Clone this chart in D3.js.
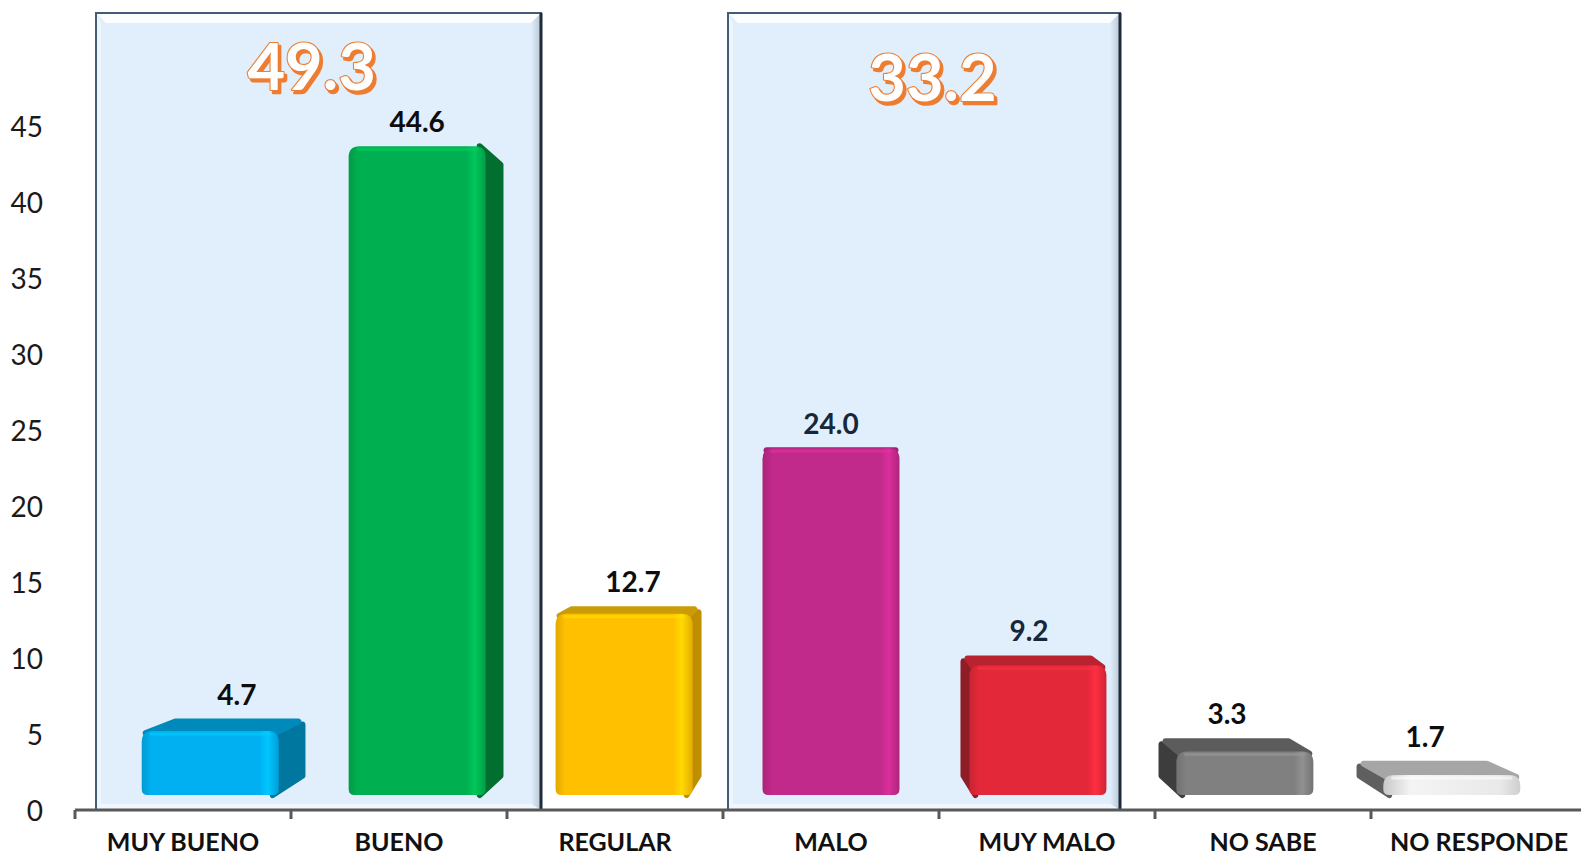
<!DOCTYPE html>
<html>
<head>
<meta charset="utf-8">
<script src="https://cdn.jsdelivr.net/npm/d3@7"></script>
<style>
  html, body { margin: 0; padding: 0; background: #ffffff; }
  svg { display: block; }
</style>
</head>
<body>
<svg id="chart" width="1581" height="859"></svg>
<script>
// ---------- DATA ----------
const categories = ["MUY BUENO", "BUENO", "REGULAR", "MALO", "MUY MALO", "NO SABE", "NO RESPONDE"];
const values = [4.7, 44.6, 12.7, 24.0, 9.2, 3.3, 1.7];
const yTicks = [0, 5, 10, 15, 20, 25, 30, 35, 40, 45];
const groupMembers = [["MUY BUENO", "BUENO"], ["MALO", "MUY MALO"]];
const groupTotals = ["49.3", "33.2"];

// ---------- STYLE ----------
const barColors = {
  "MUY BUENO":   {front: "#00b0f0", side: "#00779f", top: "#0089bb"},
  "BUENO":       {front: "#00b050", side: "#006f30", top: "#008a3c"},
  "REGULAR":     {front: "#ffc000", side: "#c08f00", top: "#c99c08"},
  "MALO":        {front: "#c1298a", side: "#861b5f", top: "#a42274"},
  "MUY MALO":    {front: "#e32939", side: "#8f1d26", top: "#b8232f"},
  "NO SABE":     {front: "#808080", side: "#3d3d3d", top: "#5c5c5c"},
  "NO RESPONDE": {front: "#e6e6e6", side: "#5f5f5f", top: "#a6a6a6"}
};

const svg = d3.select("#chart");
const W = 1581, H = 859;

// ---------- SCALES ----------
const x = d3.scaleBand().domain(categories).range([75, 75 + 7 * 216]).padding(0);
const bw = x.bandwidth();
const y = d3.scaleLinear().domain([0, 50]).range([810, 50]);       // axis scale
const barY = d3.scaleLinear().domain([0, 50]).range([800, 67]);    // 3D bar plane scale

// perspective
const VP = {x: x("MALO") + bw / 2, y: 440};
const backS = 0.957, frontK = 0.958, frontW = 137, frontBottom = 795;
const proj = (px, py) => [VP.x + (px - VP.x) * backS, VP.y + (py - VP.y) * backS];

const defs = svg.append("defs");

// ---------- GROUP BOXES ----------
const boxInset = [[21, 34], [5, -35]];
const boxTop = 13;
groupMembers.forEach((mem, i) => {
  const l = x(mem[0]) + boxInset[i][0];
  const r = x(mem[mem.length - 1]) + bw + boxInset[i][1];
  const t = boxTop, b = y(0);
  const g = svg.append("g").attr("class", "group-box");
  const gid = "boxRight" + i;
  const lg = defs.append("linearGradient").attr("id", gid).attr("x1", 0).attr("x2", 1).attr("y1", 0).attr("y2", 0);
  lg.append("stop").attr("offset", 0).attr("stop-color", "#e1effc");
  lg.append("stop").attr("offset", 1).attr("stop-color", "#b9c7d5");
  g.append("rect").attr("x", l).attr("y", t).attr("width", r - l).attr("height", b - t).attr("fill", "#e1effc");
  const bv = 10;
  g.append("polygon").attr("points", [[l, t], [r, t], [r - bv, t + bv], [l + bv, t + bv]].join(" ")).attr("fill", "#ffffff").attr("opacity", 0.9);
  g.append("polygon").attr("points", [[r, t], [r, b], [r - bv, b - bv * 0.6], [r - bv, t + bv]].join(" ")).attr("fill", "url(#" + gid + ")");
  g.append("polygon").attr("points", [[l, t], [l + 5, t + bv], [l + 5, b - 6], [l, b]].join(" ")).attr("fill", "#eef6fe");
  g.append("polygon").attr("points", [[l, b], [l + 5, b - 6], [r - bv, b - 6], [r, b]].join(" ")).attr("fill", "#f1f7fd");
  g.append("rect").attr("x", l).attr("y", t).attr("width", r - l).attr("height", b - t)
    .attr("fill", "none").attr("stroke", "#435c78").attr("stroke-width", 2);
  g.append("line").attr("x1", r).attr("x2", r).attr("y1", t).attr("y2", b).attr("stroke", "#1f2b38").attr("stroke-width", 3);
});

// ---------- AXES ----------
const yAxis = d3.axisLeft(y).tickValues(yTicks).tickSize(0).tickPadding(0);
const gy = svg.append("g").attr("transform", "translate(43,0)").call(yAxis);
gy.select(".domain").remove();
gy.selectAll("text").attr("font-family", "Lato, 'Open Sans', sans-serif").attr("font-size", 28)
  .attr("fill", "#1a1a1a").attr("dy", "0.36em");

const xAxis = d3.axisBottom(x).tickSize(0).tickPadding(0);
const gx = svg.append("g").attr("transform", `translate(0,${y(0)})`).call(xAxis);
gx.select(".domain").remove();
gx.selectAll(".tick line").remove();
gx.selectAll("text").attr("font-family", "Lato, 'Open Sans', sans-serif").attr("font-size", 25)
  .attr("font-weight", "bold").attr("fill", "#111").attr("dy", 0).attr("y", 41);
svg.append("line").attr("x1", x.range()[0]).attr("x2", W).attr("y1", y(0)).attr("y2", y(0))
  .attr("stroke", "#595959").attr("stroke-width", 3);
svg.selectAll(".bound").data(categories).join("line").attr("class", "bound")
  .attr("x1", d => x(d)).attr("x2", d => x(d)).attr("y1", y(0)).attr("y2", y(0) + 9)
  .attr("stroke", "#595959").attr("stroke-width", 3);

// ---------- BARS ----------
const data = categories.map((c, i) => ({cat: c, value: values[i]}));
const barsG = svg.append("g").attr("class", "bars");

function frontPath(l, r, t, b, rt, rb) {
  return `M${l},${b - rb} L${l},${t + rt} Q${l},${t} ${l + rt},${t} L${r - rt},${t} Q${r},${t} ${r},${t + rt} L${r},${b - rb} Q${r},${b} ${r - rb},${b} L${l + rb},${b} Q${l},${b} ${l},${b - rb} Z`;
}

data.forEach((d, i) => {
  const col = barColors[d.cat];
  const fc = VP.x + (x(d.cat) + bw / 2 - VP.x) * frontK;
  const l = fc - frontW / 2, r = fc + frontW / 2;
  const t = barY(d.value), b = frontBottom;
  d.fc = fc; d.top = t;
  const g = barsG.append("g");
  const [blx, bty] = proj(l, t);
  const [brx] = proj(r, t);
  const [, bby] = proj(l, b);
  d.backCenter = (blx + brx) / 2;
  d.backTop = bty;

  if (r < VP.x) {
    g.append("polygon").attr("points", [[r - 6, t], [brx, bty + 6], [brx, bby - 4], [r - 6, b]].join(" "))
      .attr("fill", col.side).attr("stroke", col.side).attr("stroke-width", 6).attr("stroke-linejoin", "round");
  } else if (l > VP.x) {
    g.append("polygon").attr("points", [[l + 6, t], [blx, bty + 6], [blx, bby - 4], [l + 6, b]].join(" "))
      .attr("fill", col.side).attr("stroke", col.side).attr("stroke-width", 6).attr("stroke-linejoin", "round");
  }
  if (t > VP.y) {
    g.append("polygon").attr("points", [[l + 4, t + 2], [r - 4, t + 2], [brx - 4, bty + 3], [blx + 4, bty + 3]].join(" "))
      .attr("fill", col.top).attr("stroke", col.top).attr("stroke-width", 6).attr("stroke-linejoin", "round");
  }

  const gid = "fg" + i;
  const lg = defs.append("linearGradient").attr("id", gid).attr("x1", 0).attr("x2", 1).attr("y1", 0).attr("y2", 0);
  const c0 = d3.color(col.front);
  lg.append("stop").attr("offset", 0).attr("stop-color", c0.darker(0.35));
  lg.append("stop").attr("offset", 0.07).attr("stop-color", col.front);
  lg.append("stop").attr("offset", 0.86).attr("stop-color", col.front);
  lg.append("stop").attr("offset", 0.92).attr("stop-color", c0.brighter(0.35));
  lg.append("stop").attr("offset", 1).attr("stop-color", c0.darker(0.3));
  if (d.cat === "NO RESPONDE") {
    lg.selectAll("stop").remove();
    lg.append("stop").attr("offset", 0).attr("stop-color", "#c8c8c8");
    lg.append("stop").attr("offset", 0.2).attr("stop-color", "#f4f4f4");
    lg.append("stop").attr("offset", 0.85).attr("stop-color", "#e9e9e9");
    lg.append("stop").attr("offset", 1).attr("stop-color", "#cfcfcf");
  }
  g.append("path").attr("d", frontPath(l, r, t, b, 11, 6)).attr("fill", `url(#${gid})`);
  g.append("path").attr("d", `M${l + 8},${t + 3} L${r - 8},${t + 3}`).attr("stroke", c0.brighter(0.5)).attr("stroke-opacity", 0.55)
    .attr("stroke-width", 3).attr("fill", "none");
});

// ---------- VALUE LABELS ----------
svg.append("g").selectAll("text").data(data).join("text")
  .attr("x", d => d.top > VP.y ? d.backCenter : d.fc)
  .attr("y", d => Math.min(d.top, d.backTop) - 14)
  .attr("text-anchor", "middle")
  .attr("font-family", "Lato, 'Open Sans', sans-serif").attr("font-weight", "bold").attr("font-size", 28)
  .attr("fill", d => (d.cat === "MALO" || d.cat === "MUY MALO") ? "#17273a" : "#0d0d0d")
  .text(d => d.value.toFixed(1));

// ---------- GROUP TOTALS ----------
const totalBaseline = [90, 101];
groupMembers.forEach((mem, i) => {
  const cx = d3.mean(mem, c => data.find(d => d.cat === c).fc);
  const base = {x: cx - 2, y: totalBaseline[i]};
  svg.append("text").attr("x", base.x + 2.5).attr("y", base.y + 2.5).attr("text-anchor", "middle")
    .attr("font-family", "Lato, sans-serif").attr("font-weight", "bold").attr("font-size", 65)
    .attr("fill", "#ed7d31").attr("stroke", "#ed7d31").attr("stroke-width", 2.5).attr("stroke-linejoin", "round")
    .text(groupTotals[i]);
  svg.append("text").attr("x", base.x).attr("y", base.y).attr("text-anchor", "middle")
    .attr("font-family", "Lato, sans-serif").attr("font-weight", "bold").attr("font-size", 65)
    .attr("fill", "#ffffff").attr("stroke", "#ed7d31").attr("stroke-width", 2.2).attr("stroke-linejoin", "round")
    .attr("paint-order", "stroke")
    .text(groupTotals[i]);
});
</script>
</body>
</html>
